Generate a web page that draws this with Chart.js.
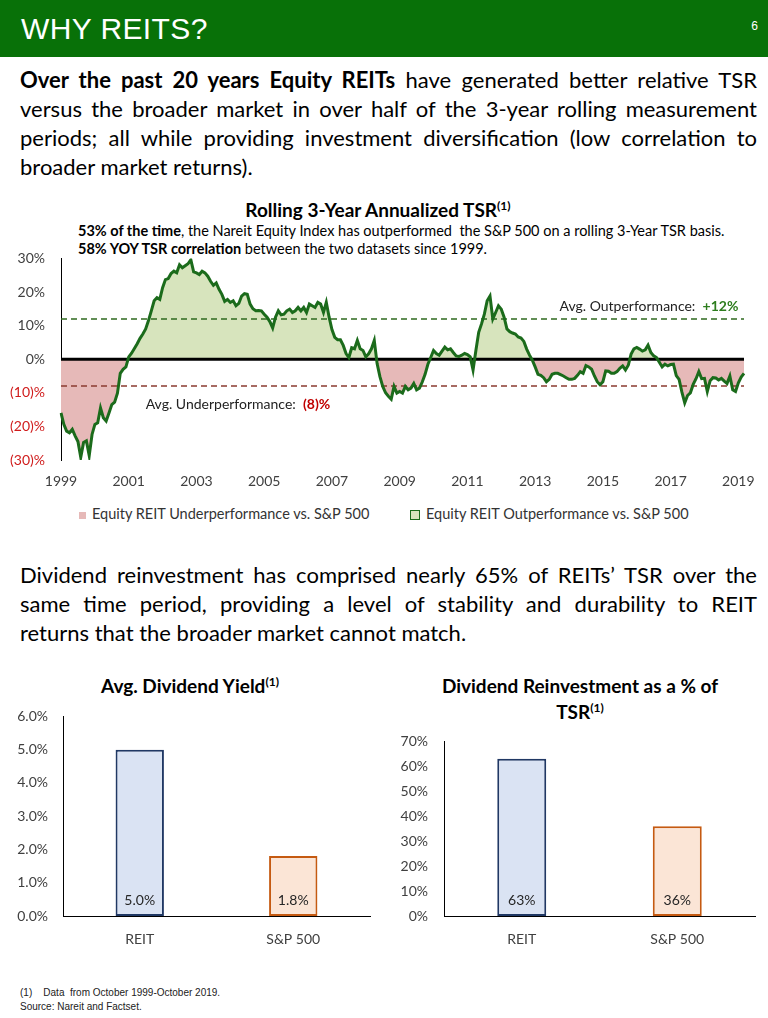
<!DOCTYPE html>
<html>
<head>
<meta charset="utf-8">
<title>Why REITs?</title>
<script src="https://cdn.jsdelivr.net/npm/chart.js@4.4.1/dist/chart.umd.min.js"></script>
<style>
  html, body { margin: 0; padding: 0; }
  body {
    width: 768px; height: 1018px; position: relative; overflow: hidden;
    background: #fff; color: #000;
    font-family: Lato, "Noto Sans", sans-serif;
  }
  .header { position: absolute; left: 0; top: 0; width: 768px; height: 57px; background: #087108; }
  .header h1 {
    position: absolute; left: 21px; top: 11px; margin: 0;
    font: 400 30px/36px "Liberation Sans", Arial, sans-serif; color: #fff; letter-spacing: 0.4px;
  }
  .page-num { position: absolute; right: 10px; top: 19px; font: 12px "Liberation Sans", Arial, sans-serif; color: #fff; }
  .para { position: absolute; left: 20px; width: 737px; font-size: 22px; line-height: 29px; }
  .para .ln { text-align: justify; text-align-last: justify; }
  .para .ln.last { text-align-last: left; }
  .chart-title { position: absolute; font-weight: 700; font-size: 19px; line-height: 23px; text-align: center; white-space: nowrap; }
  .chart-title sup { font-size: 12px; vertical-align: 7px; line-height: 0; }
  .sub { position: absolute; left: 78px; font-size: 14.5px; line-height: 18px; white-space: nowrap; }
  .box { position: absolute; }
  .legend { position: absolute; top: 505px; height: 18px; font-size: 14.5px; line-height: 18px; color: #333; white-space: nowrap; }
  .legend i { display: inline-block; vertical-align: middle; margin-right: 6px; box-sizing: border-box; }
  .foot { position: absolute; left: 20px; top: 986px; font: 10px/14px "Liberation Sans", Arial, sans-serif; color: #222; white-space: pre; }
</style>
</head>
<body>
  <div class="header"><h1>WHY REITS?</h1><div class="page-num">6</div></div>

  <div class="para" style="top:65px">
    <div class="ln"><b>Over the past 20 years Equity REITs</b> have generated better relative TSR</div>
    <div class="ln">versus the broader market in over half of the 3-year rolling measurement</div>
    <div class="ln">periods; all while providing investment diversification (low correlation to</div>
    <div class="ln last">broader market returns).</div>
  </div>

  <div class="chart-title" style="left:178px; top:198px; width:400px;">Rolling 3-Year Annualized TSR<sup>(1)</sup></div>
  <div class="sub" style="top:222px"><b>53% of the time</b>, the Nareit Equity Index has outperformed&nbsp; the S&amp;P 500 on a rolling 3-Year TSR basis.</div>
  <div class="sub" style="top:240px"><b>58% YOY TSR correlation</b> between the two datasets since 1999.</div>

  <div class="box" style="left:0; top:234px; width:760px; height:263px;"><canvas id="tsrChart"></canvas></div>
  <div id="tsrLegend"></div>

  <div class="para" style="top:560px">
    <div class="ln">Dividend reinvestment has comprised nearly 65% of REITs’ TSR over the</div>
    <div class="ln">same time period, providing a level of stability and durability to REIT</div>
    <div class="ln last">returns that the broader market cannot match.</div>
  </div>

  <div class="chart-title" style="left:40px; top:674px; width:300px;">Avg. Dividend Yield<sup>(1)</sup></div>
  <div class="chart-title" style="left:430px; top:673px; width:300px; line-height:26px;">Dividend Reinvestment as a % of<br>TSR<sup>(1)</sup></div>

  <div class="box" style="left:0; top:693px; width:384px; height:263px;"><canvas id="yieldChart"></canvas></div>
  <div class="box" style="left:384px; top:717px; width:384px; height:239px;"><canvas id="reinvestChart"></canvas></div>

  <div class="foot">(1)    Data  from October 1999-October 2019.
Source: Nareit and Factset.</div>

<script>
// Rolling 3-year TSR spread, Equity REITs minus S&P 500 (%), monthly from Oct 1999
const startYear = 1999;
const startMonth = 9;
const tsrSpread = [
  -16.0, -19.4, -21.4, -21.9, -20.9, -22.8, -24.5, -29.2, -24.8, -24.3, -28.7, -22.4,
  -19.4, -18.9, -14.5, -17.4, -18.4, -16.0, -13.5, -12.8, -10.1, -4.2, -3.0, -2.3,
  0.7, 1.8, 3.2, 4.6, 6.2, 7.5, 9.0, 11.5, 14.4, 17.4, 18.3, 17.8,
  21.3, 23.7, 24.0, 25.5, 26.2, 25.7, 28.1, 27.2, 27.8, 28.4, 29.6, 26.0,
  25.7, 25.2, 26.2, 25.7, 24.7, 23.2, 22.0, 22.7, 20.8, 19.3, 17.2, 17.8,
  16.9, 17.4, 15.9, 16.6, 18.8, 19.5, 19.3, 16.4, 15.0, 14.4, 14.5, 14.4,
  13.4, 12.5, 11.2, 9.3, 12.5, 14.4, 13.2, 13.4, 14.4, 14.9, 13.9, 14.4,
  15.4, 14.4, 15.4, 13.9, 16.4, 15.9, 15.4, 16.9, 16.4, 13.9, 16.9, 12.5,
  8.8, 6.5, 5.8, 5.8, 4.1, 1.7, 0.5, 3.4, 3.1, 5.6, 3.1, 2.6,
  0.7, 1.6, 3.1, 5.6, -1.3, -5.2, -8.1, -10.0, -11.0, -11.9, -8.1, -10.1,
  -9.6, -10.1, -8.1, -9.1, -8.6, -7.2, -9.1, -8.6, -6.8, -4.5, -1.5, 0.5,
  2.6, 1.7, 1.2, 2.4, 3.6, 2.8, 3.1, 2.0, 1.0, 0.8, 1.2, 1.7,
  1.4, 0.7, -3.2, 2.6, 8.0, 10.5, 13.4, 17.4, 18.8, 12.0, 13.9, 15.9,
  14.9, 12.5, 9.0, 8.2, 7.8, 7.5, 6.6, 6.3, 5.3, 3.0, 1.2, -0.3,
  -2.3, -4.5, -4.8, -5.5, -6.7, -6.0, -4.5, -4.2, -4.2, -4.6, -5.0, -5.5,
  -6.0, -6.0, -5.7, -4.8, -3.7, -4.2, -1.9, -2.3, -3.0, -5.0, -6.7, -7.6,
  -6.7, -3.5, -3.6, -4.2, -4.2, -3.7, -2.7, -2.0, -3.2, -1.8, 1.5, 3.1,
  3.5, 3.0, 2.4, 2.8, 4.2, 2.0, 1.0, 0.5, -0.9, -2.3, -1.5, -2.0,
  -1.6, -1.5, -4.9, -6.0, -9.8, -13.0, -10.8, -10.0, -7.5, -5.8, -3.7, -5.8,
  -5.7, -9.6, -6.4, -5.5, -5.6, -6.2, -5.7, -6.5, -7.2, -5.0, -9.1, -9.6,
  -7.0, -5.3, -4.2,
];
const yearTicks = ['1999', '2001', '2003', '2005', '2007', '2009', '2011', '2013', '2015', '2017', '2019'];
const tickEvery = 24;
const avgOutperformance = 12;
const avgUnderperformance = -8;
const legendLabels = ['Equity REIT Underperformance vs. S&P 500', 'Equity REIT Outperformance vs. S&P 500'];

const barCategories = ['REIT', 'S&P 500'];
const dividendYield = [5.0, 1.8];
const reinvestShare = [63, 36];

// colours
const lineGreen = '#1b6b1b';
const outFill = '#d7e4bd';
const underFill = '#e6b9b8';
const outDash = '#2f6a1f';
const underDash = '#8a3b30';
const negRed = '#d01c1c';
const tickGrey = '#404040';
const barFills = ['#dae3f3', '#fbe5d6'];
const barBorders = ['#203864', '#c55a11'];

Chart.defaults.font.family = 'Lato, "Noto Sans", sans-serif';
Chart.defaults.animation = false;

const monthLabels = tsrSpread.map((_, i) => {
  const d = new Date(startYear, startMonth + i, 1);
  return d.toLocaleString('en-US', { month: 'short' }) + ' ' + d.getFullYear();
});

function dashedLine(ctx, x1, x2, y, color) {
  ctx.beginPath();
  ctx.setLineDash([6, 4]);
  ctx.lineWidth = 1.5;
  ctx.strokeStyle = color;
  ctx.moveTo(x1, y);
  ctx.lineTo(x2, y);
  ctx.stroke();
  ctx.setLineDash([]);
}

function mixedText(ctx, parts, x, y, align) {
  // parts: [{text, bold, color}]
  const widths = parts.map((p) => {
    ctx.font = (p.bold ? '700 ' : '400 ') + '14px Lato';
    return ctx.measureText(p.text).width;
  });
  let cx = align === 'right' ? x - widths.reduce((a, b) => a + b, 0) : x;
  parts.forEach((p, i) => {
    ctx.font = (p.bold ? '700 ' : '400 ') + '14px Lato';
    ctx.fillStyle = p.color;
    ctx.fillText(p.text, cx, y);
    cx += widths[i];
  });
}

const refLines = {
  id: 'refLines',
  beforeDatasetDraw(chart) {
    const { ctx, chartArea: a, scales: { y } } = chart;
    ctx.save();
    dashedLine(ctx, a.left, a.right, y.getPixelForValue(avgOutperformance), outDash);
    dashedLine(ctx, a.left, a.right, y.getPixelForValue(avgUnderperformance), underDash);
    ctx.beginPath();
    ctx.lineWidth = 3;
    ctx.strokeStyle = '#000';
    ctx.moveTo(a.left, y.getPixelForValue(0));
    ctx.lineTo(a.right, y.getPixelForValue(0));
    ctx.stroke();
    ctx.restore();
  },
  afterDatasetsDraw(chart) {
    const { ctx, scales: { x, y } } = chart;
    ctx.save();
    ctx.textBaseline = 'middle';
    mixedText(ctx, [
      { text: 'Avg. Outperformance:  ', color: '#222' },
      { text: '+' + avgOutperformance + '%', bold: true, color: '#2e7d1e' },
    ], x.getPixelForValue(240), y.getPixelForValue(avgOutperformance) - 12, 'right');
    mixedText(ctx, [
      { text: 'Avg. Underperformance:  ', color: '#222' },
      { text: '(' + Math.abs(avgUnderperformance) + ')%', bold: true, color: '#c00000' },
    ], x.getPixelForValue(30), y.getPixelForValue(avgUnderperformance) + 18, 'left');
    ctx.restore();
  },
};

new Chart(document.getElementById('tsrChart'), {
  type: 'line',
  data: {
    labels: monthLabels,
    datasets: [{
      data: tsrSpread,
      borderColor: lineGreen,
      borderWidth: 3,
      pointRadius: 0,
      tension: 0,
      fill: { target: { value: 0 }, above: outFill, below: underFill },
    }],
  },
  options: {
    responsive: true,
    maintainAspectRatio: false,
    layout: { padding: { top: 0, right: 16, left: 0, bottom: 0 } },
    plugins: { legend: { display: false }, tooltip: { enabled: false } },
    scales: {
      x: {
        grid: { display: false, drawTicks: false },
        border: { display: false },
        ticks: {
          autoSkip: false, maxRotation: 0, minRotation: 0, padding: 13,
          color: tickGrey, font: { size: 14 },
          callback: (v, i) => (i % tickEvery === 0 ? yearTicks[i / tickEvery] : ''),
        },
        afterFit: (s) => { s.height = 37; },
      },
      y: {
        min: -30, max: 30,
        grid: { display: false, drawTicks: false },
        border: { color: '#000', width: 1 },
        ticks: {
          stepSize: 10, padding: 16, font: { size: 14 },
          color: (c) => (c.tick && c.tick.value < 0 ? negRed : tickGrey),
          callback: (v) => (v < 0 ? '(' + (-v) + ')%' : v + '%'),
        },
        afterFit: (s) => { s.width = 61; },
      },
    },
  },
  plugins: [refLines],
});

// html legend for the fill areas
const legendEl = document.getElementById('tsrLegend');
[
  { left: 79, swatch: 'width:7px;height:7px;background:' + underFill },
  { left: 410, swatch: 'width:10px;height:10px;background:' + outFill + ';border:1px solid ' + lineGreen },
].forEach((item, i) => {
  const div = document.createElement('div');
  div.className = 'legend';
  div.style.left = item.left + 'px';
  div.innerHTML = '<i style="' + item.swatch + '"></i>' + legendLabels[i].replace('&', '&amp;');
  legendEl.appendChild(div);
});

function makeBarChart(id, values, opts) {
  const valueLabels = {
    id: 'valueLabels',
    afterDatasetsDraw(chart) {
      const { ctx } = chart;
      ctx.save();
      ctx.font = '14px Lato';
      ctx.fillStyle = '#262626';
      ctx.textAlign = 'center';
      ctx.textBaseline = 'middle';
      chart.getDatasetMeta(0).data.forEach((bar, i) => {
        ctx.fillText(opts.format(values[i]), bar.x, bar.base - 16);
      });
      ctx.restore();
    },
  };

  return new Chart(document.getElementById(id), {
    type: 'bar',
    data: {
      labels: barCategories,
      datasets: [{
        data: values,
        backgroundColor: barFills,
        borderColor: barBorders,
        borderWidth: 2,
        borderSkipped: false,
        barPercentage: opts.barPct,
        categoryPercentage: 1,
      }],
    },
    options: {
      responsive: true,
      maintainAspectRatio: false,
      layout: { padding: { top: 0, right: opts.padRight, left: 0, bottom: 0 } },
      plugins: { legend: { display: false }, tooltip: { enabled: false } },
      scales: {
        x: {
          grid: { display: false, drawTicks: false },
          border: { color: '#000', width: 1 },
          ticks: { padding: 15, color: tickGrey, font: { size: 14 } },
          afterFit: (s) => { s.height = 40; },
        },
        y: {
          min: 0, max: opts.max,
          grid: { display: false, drawTicks: false },
          border: { color: '#000', width: 1 },
          ticks: { stepSize: opts.step, padding: opts.tickPad, color: tickGrey, font: { size: 14 }, callback: opts.format },
          afterFit: (s) => { s.width = opts.axisWidth; },
        },
      },
    },
    plugins: [valueLabels],
  });
}

makeBarChart('yieldChart', dividendYield, {
  max: 6, step: 1, format: (v) => Number(v).toFixed(1) + '%',
  barPct: 0.315, padRight: 14, axisWidth: 63, tickPad: 15,
});
makeBarChart('reinvestChart', reinvestShare, {
  max: 70, step: 10, format: (v) => v + '%',
  barPct: 0.315, padRight: 13, axisWidth: 60, tickPad: 16,
});
</script>
</body>
</html>
